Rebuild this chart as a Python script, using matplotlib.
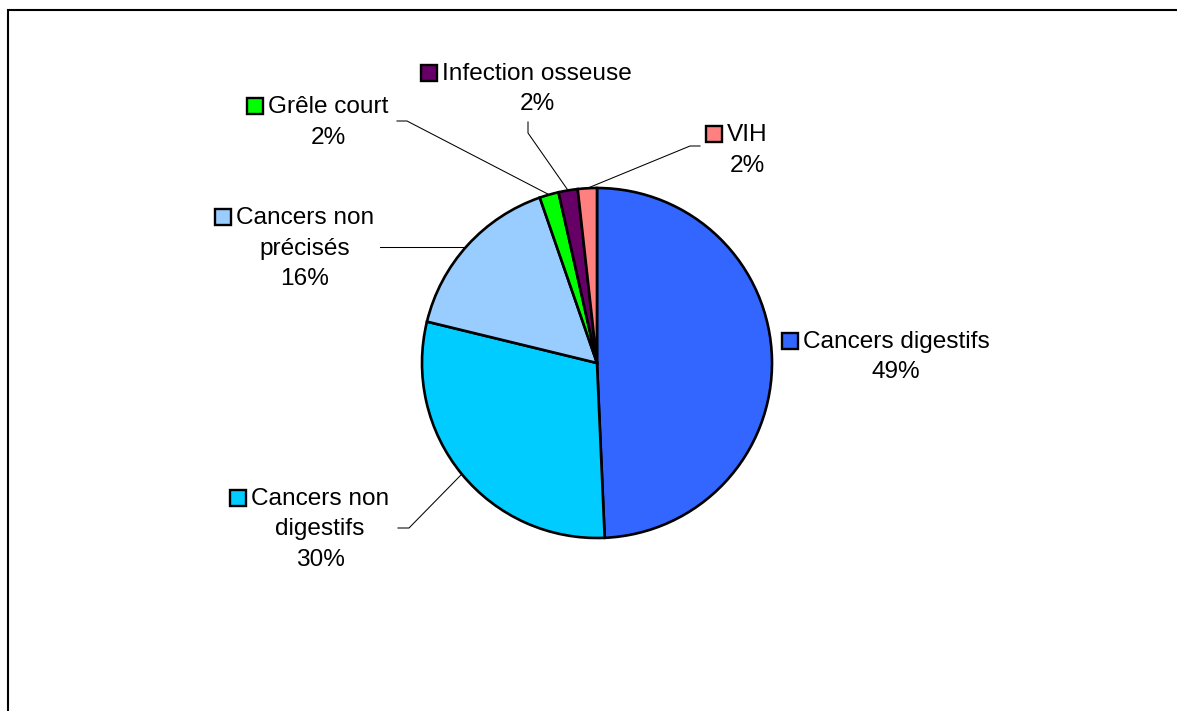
import numpy as np
import matplotlib
matplotlib.use("Agg")
import matplotlib.pyplot as plt
from matplotlib.patches import Rectangle

# ---- data ----
categories = ["Cancers digestifs", "Cancers non digestifs", "Cancers non précisés",
              "Grêle court", "Infection osseuse", "VIH"]
label_lines = [["Cancers digestifs"], ["Cancers non", "digestifs"], ["Cancers non", "précisés"],
               ["Grêle court"], ["Infection osseuse"], ["VIH"]]
values = [49.3, 29.5, 15.9, 1.77, 1.77, 1.76]
pct_labels = ["49%", "30%", "16%", "2%", "2%", "2%"]
colors = ["#3366FF", "#00CCFF", "#99CCFF", "#00FF00", "#660066", "#FF8080"]

W, H = 1177, 711
fig = plt.figure(figsize=(W / 100, H / 100), dpi=100)
ax = fig.add_axes([0, 0, 1, 1])
ax.set_xlim(0, W)
ax.set_ylim(0, H)
ax.set_aspect("equal")
ax.axis("off")

def Y(y):
    return H - y

# border
ax.plot([8, 8, W + 5], [Y(H + 5), Y(10), Y(10)], color="black", lw=1.5, solid_joinstyle="miter")

cx, cy, r = 597, 363, 175
wedges, _ = ax.pie(values, colors=colors, startangle=90, counterclock=False,
                   center=(cx, Y(cy)), radius=r, frame=True,
                   wedgeprops=dict(edgecolor="black", linewidth=1.9))
ax.set_xlim(0, W)
ax.set_ylim(0, H)
ax.axis("off")

font = dict(family="Liberation Sans", size=17.6, color="black")

# layout: label centre x, first baseline y (pixels), elbow points for leader
layout = [
    dict(x=896, y=348, leader=None),
    dict(x=320, y=505, leader=[(398, 528), (409, 528)]),
    dict(x=305, y=224, leader=[(380, 247)], horizontal=True),
    dict(x=328, y=113, leader=[(397, 121), (407, 121)]),
    dict(x=537, y=80, leader=[(528, 122), (528, 133)]),
    dict(x=747, y=141, leader=[(700, 146), (690, 146)]),
]
line_h = 30.5

fig.canvas.draw()
renderer = fig.canvas.get_renderer()

for i, (w, lay) in enumerate(zip(wedges, layout)):
    lines = label_lines[i] + [pct_labels[i]]
    texts = []
    for k, s in enumerate(lines):
        t = ax.text(lay["x"], Y(lay["y"] + k * line_h), s, ha="center", va="baseline", **font)
        texts.append(t)
    # marker square left of first line
    bb = texts[0].get_window_extent(renderer=renderer)
    left = bb.x0
    size = 16
    ax.add_patch(Rectangle((left - 5 - size, Y(lay["y"]) - 0.5), size, size,
                           facecolor=colors[i], edgecolor="black", linewidth=1.7, zorder=5))
    # leader line
    if lay["leader"]:
        theta = np.deg2rad((w.theta1 + w.theta2) / 2)
        if lay.get("horizontal"):
            ly = lay["leader"][-1][1]
            dy = cy - ly
            ex = cx - np.sqrt(r * r - dy * dy)
            ey = Y(ly)
        else:
            ex = cx + r * np.cos(theta)
            ey = Y(cy) + r * np.sin(theta)
        pts = [(px, Y(py)) for px, py in lay["leader"]] + [(ex, ey)]
        xs, ys = zip(*pts)
        ax.plot(xs, ys, color="black", lw=0.75, zorder=4)

fig.savefig("out.png", dpi=100, facecolor="white")
